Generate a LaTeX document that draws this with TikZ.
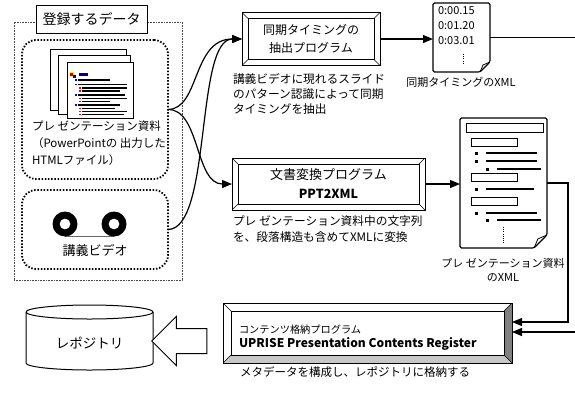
\documentclass[tikz,border=0pt]{standalone}
\usepackage{fontspec}
\setmainfont{Noto Sans CJK JP}
\usetikzlibrary{arrows.meta,shapes.arrows,calc}

\newcommand\fsz[2]{\fontsize{#1}{#2}\selectfont}
% document icon with a folded lower right corner, drawn around an empty node
\newcommand\docoutline[2]{%
  \draw[line width=1.1pt,fill=white,rounded corners=1.5pt]
    (#1.north west) -- (#1.north east) -- ([yshift=#2]#1.south east)
    -- ([xshift=-#2]#1.south east) -- (#1.south west) -- cycle;
  \draw[line width=0.8pt] ([xshift=-#2]#1.south east)
    -- ([xshift=-0.7*#2,yshift=0.7*#2]#1.south east) -- ([yshift=#2]#1.south east);
}
\def\bevw{6pt}
\def\bevRc{white}
\def\bevBc{white}

\begin{document}
\begin{tikzpicture}[x=1pt,y=-1pt,
  every node/.style={inner sep=0pt,outer sep=0pt},
  conn/.style={line width=1.2pt,-{Triangle[length=10pt,width=8pt]}},
  link/.style={line width=1.2pt},
  thinframe/.style={draw=black!70,line width=0.7pt,dash pattern=on 0.8pt off 0.8pt},
  dotbox/.style={draw,line width=1.8pt,dash pattern=on 1.5pt off 1.7pt,rounded corners=14pt},
  bevw/.code={\def\bevw{#1}},
  bevR/.code={\def\bevRc{#1}},
  bevB/.code={\def\bevBc{#1}},
  bevelbox/.style={draw,line width=1pt,fill=white,
    path picture={
      \fill[\bevRc] (path picture bounding box.north east) -- ++(-\bevw,-\bevw)
        -- ([xshift=-\bevw,yshift=\bevw]path picture bounding box.south east)
        -- (path picture bounding box.south east) -- cycle;
      \fill[\bevBc] (path picture bounding box.south west) -- ++(\bevw,\bevw)
        -- ([xshift=-\bevw,yshift=\bevw]path picture bounding box.south east)
        -- (path picture bounding box.south east) -- cycle;
      \draw[line width=1pt] ([xshift=\bevw,yshift=-\bevw]path picture bounding box.north west)
        rectangle ([xshift=-\bevw,yshift=\bevw]path picture bounding box.south east);
      \draw[line width=0.6pt]
        (path picture bounding box.north west) -- ++(\bevw,-\bevw)
        (path picture bounding box.north east) -- ++(-\bevw,-\bevw)
        (path picture bounding box.south west) -- ++(\bevw,\bevw)
        (path picture bounding box.south east) -- ++(-\bevw,\bevw);
    }},
  slide/.style={draw,line width=0.8pt,fill=white},
  bar/.style={line width=2.6pt},
  txtbar/.style={line width=1.1pt},
  outlinebox/.style={draw,line width=1pt,fill=white}
]
\useasboundingbox (0,0) rectangle (575,394);
\clip (0,0) rectangle (575,394);
\fill[white] (0,0) rectangle (575,394);

% ---------- data to be registered ----------
\node[thinframe,minimum width=168pt,minimum height=258pt] (frame) at (98,151) {};
\node[draw,line width=0.9pt,fill=white,minimum width=111pt,minimum height=28pt,
      font=\fsz{14}{16}] (title) at (91.5,19) {登録するデータ};

\node[dotbox,minimum width=146pt,minimum height=139pt] (pbox) at (95,109.5) {};
\node[dotbox,minimum width=146pt,minimum height=79pt] (vbox) at (95,229.5) {};

% stack of slides
\draw[slide] (50,49) rectangle (126,110);
\draw[slide] (58,55) rectangle (130,114);
\draw[slide] (67,62) rectangle (133,118);
% slide content
\fill[yellow!90!orange] (72,74) circle[radius=2.6pt];
\fill[red!80!black] (70,73) rectangle (73,76);
\fill[blue!80!black] (73,75) rectangle (76,78);
\fill[blue!60!black] (79,73) rectangle (88,76);
\foreach \yy/\xa/\xb/\bc in {80/78/110/blue, 84.5/78/127/blue, 88/82/127/red, 91/82/120/red,
    95/78/125/blue, 98.5/82/127/red, 101.5/82/110/red, 105/78/120/blue,
    108.5/82/115/red, 111.5/82/127/red, 114.5/82/124/red} {
  \draw[txtbar] (\xa,\yy) -- (\xb,\yy);
  \fill[\bc] (\xa-3.5,\yy-0.8) rectangle (\xa-1.5,\yy+0.8);
}
\node[anchor=north west,align=left,font=\fsz{11.5}{17}] (ptext) at (32,121)
  {プレ ゼンテーション資料\\（PowerPointの 出力した\\HTMLファイル）};

% video reels
\draw[black!60,line width=0.6pt] (65,236) -- (114,236);
\fill[even odd rule] (65,224) circle[radius=12.5pt] (65,224) circle[radius=5.5pt];
\fill[even odd rule] (114,224) circle[radius=12.5pt] (114,224) circle[radius=5.5pt];
\node[font=\fsz{13}{15}] (vtext) at (95,250) {講義ビデオ};

% ---------- programs ----------
\node[bevelbox,bevw=6pt,minimum width=138pt,minimum height=53pt,align=center,
      font=\fsz{12}{18}] (box1) at (311,39) {同期タイミングの\\抽出プログラム};
\node[anchor=north west,align=left,font=\fsz{11.7}{15}] (cap1) at (233,73.5)
  {講義ビデオに現れるスライド\\のパターン認識によって同期\\タイミングを抽出};

\node[bevelbox,bevw=6pt,minimum width=193pt,minimum height=52pt,align=center,
      font=\fsz{13}{19}] (box2) at (328.5,184) {文書変換プログラム\\\fsz{12.5}{19}\textbf{PPT2XML}};
\node[anchor=north west,align=left,font=\fsz{11.7}{16}] (cap2) at (233,216)
  {プレ ゼンテーション資料中の文字列\\を、段落構造も含めてXMLに変換};

\node[bevelbox,bevw=8pt,bevR=black!50,bevB=black!22,minimum width=289pt,minimum height=60pt]
  (box3) at (367.5,333) {};
\node[anchor=west,font=\fsz{10.2}{12}] (box3a) at (239,329.5) {コンテンツ格納プログラム};
\node[anchor=west,font=\fsz{12}{14}\bfseries] (box3b) at (239,344) {UPRISE Presentation Contents Register};
\node[anchor=west,font=\fsz{11.5}{14}] (cap5) at (240,372) {メタデータを構成し、レポジトリに格納する};

% ---------- XML documents ----------
\node[minimum width=57pt,minimum height=69pt] (doc1) at (461.5,37.5) {};
\docoutline{doc1}{10pt}
\node[anchor=north west,align=left,font=\fsz{11}{15}] (times) at (438,7) {0:00.15\\0:01.20\\0:03.01};
\draw[line width=1pt,dash pattern=on 1pt off 1.2pt] (463,54) -- (463,65);
\node[font=\fsz{11}{14}] (cap3) at (461,82) {同期タイミングのXML};

\node[minimum width=87pt,minimum height=130pt] (doc2) at (503.5,183) {};
\docoutline{doc2}{13pt}
\draw[outlinebox] (466,123) rectangle (543,132);
\draw[outlinebox] (471,138) rectangle (517,146);
\draw[outlinebox] (471,173) rectangle (517,181);
\draw[outlinebox] (471,197) rectangle (517,205);
\foreach \yy/\xa/\xb in {153/486/537, 161/486/537, 169/497/541, 189/486/534, 213/486/537, 220/497/541} {
  \draw[bar] (\xa,\yy) -- (\xb,\yy);
  \fill (\xa-11,\yy-1.5) rectangle (\xa-8,\yy+1.5);
}
\draw[line width=1pt,dash pattern=on 1pt off 1.2pt] (503,227) -- (503,243);
\node[align=center,font=\fsz{11}{14.5}] (cap4) at (503,270) {プレ ゼンテーション資料\\のXML};

% ---------- repository ----------
\node[minimum width=127pt,minimum height=51pt] (repo) at (89.5,337.5) {};
\draw[line width=1pt,fill=white] (repo.north west) -- (repo.south west)
  arc[start angle=180,end angle=360,x radius=63.5pt,y radius=7pt] -- (repo.north east)
  arc[start angle=0,end angle=180,x radius=63.5pt,y radius=7pt] -- cycle;
\draw[line width=1pt] (repo.north west)
  arc[start angle=180,end angle=360,x radius=63.5pt,y radius=7pt];
\node[font=\fsz{13.5}{17}] (repolabel) at (89.5,343) {レポジトリ};

\node[single arrow,draw,line width=1pt,fill=white,shape border rotate=180,
      minimum height=55pt,minimum width=48pt,single arrow head extend=12pt,
      inner xsep=0pt,inner ysep=12pt] (bigarr) at (185.5,341) {};

% ---------- connectors ----------
\draw[conn] (pbox.east) .. controls (200,109) and (192,39) .. (box1.west);
\draw[conn] (vbox.east) .. controls (212,229) and (195,39) .. (box1.west);
\draw[conn] (pbox.east) .. controls (200,109) and (195,184) .. (box2.west);

\draw[conn] (box1.east) -- (box1.east -| doc1.west);
\draw[conn] (box2.east) -- (box2.east -| doc2.west);

\coordinate (rjog) at (568,0);
\coordinate (farR) at (590,0);
\draw[conn] (doc2.east) -- (doc2.east -| rjog) |- ([yshift=11pt]box3.east);
\draw[conn] (doc1.east) -- (doc1.east -| farR) |- ([yshift=1pt]box3.east);
\end{tikzpicture}
\end{document}
